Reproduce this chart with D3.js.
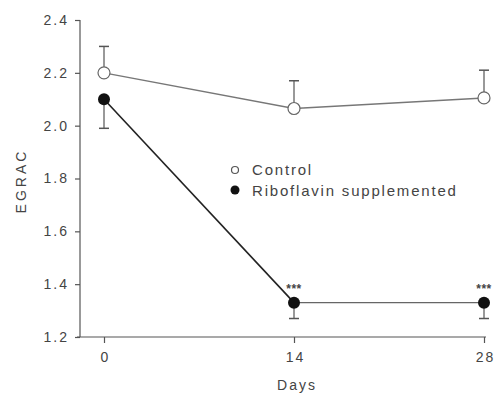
<!DOCTYPE html>
<html>
<head>
<meta charset="utf-8">
<script src="https://cdn.jsdelivr.net/npm/d3@7"></script>
<style>
  body { margin: 0; background: #fff; }
  text { font-family: "Liberation Sans", Arial, sans-serif; fill: #444; }
</style>
</head>
<body>
<div id="chart"></div>
<script>
const days = [0, 14, 28];
const controlMean = [2.20, 2.065, 2.105];
const controlUpper = [2.30, 2.17, 2.21];
const riboMean = [2.10, 1.33, 1.33];
const riboLower = [1.99, 1.27, 1.27];
const riboStars = ["", "***", "***"];
const yTicks = [1.2, 1.4, 1.6, 1.8, 2.0, 2.2, 2.4];
const seriesNames = ["Control", "Riboflavin supplemented"];

const width = 494, height = 393;
const svg = d3.select("#chart").append("svg")
  .attr("width", width).attr("height", height);

const x = d3.scaleLinear([0, 28], [104, 484]);
const y = d3.scaleLinear([1.2, 2.4], [337, 20]);

// y axis
const gY = svg.append("g")
  .attr("transform", "translate(80,0)")
  .call(d3.axisLeft(y).tickValues(yTicks).tickSize(5).tickPadding(6).tickFormat(d3.format(".1f")));
gY.select(".domain").attr("d", `M0,${y(2.4)}V${y(1.2)}`);

// x axis
const gX = svg.append("g")
  .attr("transform", "translate(0,337)")
  .call(d3.axisBottom(x).tickValues(days).tickSize(6).tickPadding(9));
gX.select(".domain").attr("d", "M77,0H486");

svg.selectAll(".domain, .tick line").attr("stroke", "#555").attr("stroke-width", 1.2);
svg.selectAll(".tick text").attr("font-size", 14).attr("fill", "#555")
  .attr("letter-spacing", 2)
  .attr("font-family", "Liberation Sans, Arial, sans-serif");
gX.selectAll(".tick text").attr("dx", 1);

svg.append("text").attr("x", 297).attr("y", 390)
  .attr("text-anchor", "middle").attr("font-size", 14).attr("letter-spacing", 2).text("Days");
svg.append("text")
  .attr("transform", `translate(26,181) rotate(-90)`)
  .attr("text-anchor", "middle").attr("font-size", 14).attr("letter-spacing", 3).text("EGRAC");

const line = d3.line().x(d => x(d[0])).y(d => y(d[1]));

// error bars
function errBars(mean, lim) {
  days.forEach((d, i) => {
    svg.append("line").attr("x1", x(d)).attr("x2", x(d))
      .attr("y1", y(mean[i])).attr("y2", y(lim[i]))
      .attr("stroke", "#555").attr("stroke-width", 1.2);
    svg.append("line").attr("x1", x(d) - 5).attr("x2", x(d) + 5)
      .attr("y1", y(lim[i])).attr("y2", y(lim[i]))
      .attr("stroke", "#555").attr("stroke-width", 1.5);
  });
}
errBars(controlMean, controlUpper);
errBars(riboMean, riboLower);

// lines
svg.append("path").datum(days.map((d, i) => [d, controlMean[i]]))
  .attr("d", line).attr("fill", "none").attr("stroke", "#777").attr("stroke-width", 1.4);
svg.append("path").datum(days.map((d, i) => [d, riboMean[i]]).slice(0, 2))
  .attr("d", line).attr("fill", "none").attr("stroke", "#222").attr("stroke-width", 1.6);
svg.append("path").datum(days.map((d, i) => [d, riboMean[i]]).slice(1))
  .attr("d", line).attr("fill", "none").attr("stroke", "#666").attr("stroke-width", 1.4);

// markers
svg.selectAll(".ctl").data(days).enter().append("circle")
  .attr("cx", d => x(d)).attr("cy", (d, i) => y(controlMean[i])).attr("r", 6)
  .attr("fill", "#fff").attr("stroke", "#666").attr("stroke-width", 1.2);
svg.selectAll(".rib").data(days).enter().append("circle")
  .attr("cx", d => x(d)).attr("cy", (d, i) => y(riboMean[i])).attr("r", 6)
  .attr("fill", "#111");

// stars
svg.selectAll(".star").data(days).enter().append("text")
  .attr("x", d => x(d)).attr("y", (d, i) => y(riboMean[i]) - 10)
  .attr("text-anchor", "middle").attr("font-size", 12).attr("font-weight", "bold")
  .attr("letter-spacing", 0.5).attr("fill", "#333").text((d, i) => riboStars[i]);

// legend
const leg = svg.append("g");
leg.append("circle").attr("cx", 235).attr("cy", 170).attr("r", 3.5)
  .attr("fill", "#fff").attr("stroke", "#555").attr("stroke-width", 1.2);
leg.append("circle").attr("cx", 235).attr("cy", 190).attr("r", 4.5).attr("fill", "#111");
leg.selectAll(".lt").data(seriesNames).enter().append("text")
  .attr("x", 252).attr("y", (d, i) => 175 + i * 21)
  .attr("font-size", 15).attr("letter-spacing", 1.8).text(d => d);
</script>
</body>
</html>
